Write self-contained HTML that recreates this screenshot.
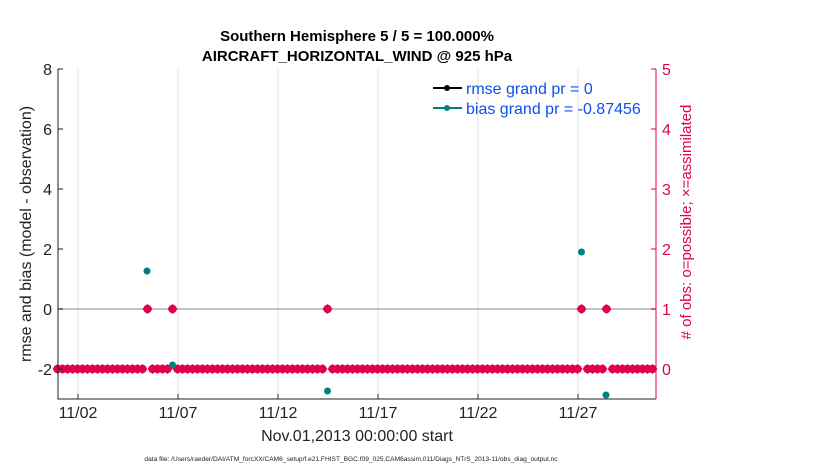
<!DOCTYPE html>
<html><head><meta charset="utf-8"><style>
html,body{margin:0;padding:0;background:#fff;}
svg{display:block;font-family:"Liberation Sans",Arial,sans-serif;}
</style></head><body>
<svg id="s" width="830" height="470" viewBox="0 0 830 470" xmlns="http://www.w3.org/2000/svg">
<defs>
<g id="m"><circle r="4.2" fill="#e0004d"/><path d="M-5 0L0 -5L5 0L0 5Z" fill="#e0004d"/></g>
</defs>
<rect x="58" y="69" width="598" height="330" fill="#fff"/>
<g stroke="#dcdcdc" stroke-width="1">
<line x1="78" y1="69" x2="78" y2="399"/><line x1="178" y1="69" x2="178" y2="399"/>
<line x1="278" y1="69" x2="278" y2="399"/><line x1="378" y1="69" x2="378" y2="399"/>
<line x1="478" y1="69" x2="478" y2="399"/><line x1="578" y1="69" x2="578" y2="399"/>
</g>
<line x1="58" y1="309" x2="656" y2="309" stroke="#c4c4c4" stroke-width="2"/>
<g id="pts"></g>
<g fill="#008080">
<circle cx="147" cy="271" r="3.5"/><circle cx="172.5" cy="365" r="3.5"/><circle cx="327.5" cy="391" r="3.5"/>
<circle cx="581.5" cy="252" r="3.5"/><circle cx="606" cy="395" r="3.5"/>
</g>
<path d="M58 69V399H656" fill="none" stroke="#222" stroke-width="1"/>
<line x1="656" y1="69" x2="656" y2="399" stroke="#e0004d" stroke-width="1"/>
<g stroke="#222"><line x1="58" y1="69" x2="63" y2="69"/><line x1="58" y1="129" x2="63" y2="129"/><line x1="58" y1="189" x2="63" y2="189"/><line x1="58" y1="249" x2="63" y2="249"/><line x1="58" y1="309" x2="63" y2="309"/><line x1="58" y1="369" x2="63" y2="369"/>
<line x1="78" y1="399" x2="78" y2="394"/><line x1="178" y1="399" x2="178" y2="394"/><line x1="278" y1="399" x2="278" y2="394"/><line x1="378" y1="399" x2="378" y2="394"/><line x1="478" y1="399" x2="478" y2="394"/><line x1="578" y1="399" x2="578" y2="394"/></g>
<g stroke="#e0004d"><line x1="651" y1="69" x2="656" y2="69"/><line x1="651" y1="129" x2="656" y2="129"/><line x1="651" y1="189" x2="656" y2="189"/><line x1="651" y1="249" x2="656" y2="249"/><line x1="651" y1="309" x2="656" y2="309"/><line x1="651" y1="369" x2="656" y2="369"/></g>
<g font-size="16" fill="#222" text-anchor="end">
<text x="52" y="75">8</text><text x="52" y="135">6</text><text x="52" y="195">4</text><text x="52" y="255">2</text><text x="52" y="315">0</text><text x="52" y="375">-2</text>
</g>
<g font-size="16" fill="#e0004d">
<text x="662" y="75">5</text><text x="662" y="135">4</text><text x="662" y="195">3</text><text x="662" y="255">2</text><text x="662" y="315">1</text><text x="662" y="375">0</text>
</g>
<g font-size="16" fill="#222" text-anchor="middle">
<text x="78" y="418">11/02</text><text x="178" y="418">11/07</text><text x="278" y="418">11/12</text><text x="378" y="418">11/17</text><text x="478" y="418">11/22</text><text x="578" y="418">11/27</text>
<text x="357" y="441">Nov.01,2013 00:00:00 start</text>
</g>
<text transform="translate(31,234) rotate(-90)" font-size="16" fill="#222" text-anchor="middle">rmse and bias (model - observation)</text>
<text transform="translate(691,222) rotate(-90)" font-size="15" fill="#e0004d" text-anchor="middle"># of obs: o=possible; ×=assimilated</text>
<g font-size="15" font-weight="bold" fill="#000" text-anchor="middle">
<text x="357" y="41">Southern Hemisphere 5 / 5 = 100.000%</text>
<text x="357" y="61">AIRCRAFT_HORIZONTAL_WIND @ 925 hPa</text>
</g>
<text x="351" y="461" font-size="6.6" fill="#222" text-anchor="middle">data file: /Users/raeder/DAI/ATM_forcXX/CAM6_setup/f.e21.FHIST_BGC.f09_025.CAM6assim.011/Diags_NTrS_2013-11/obs_diag_output.nc</text>
<line x1="433" y1="88" x2="462" y2="88" stroke="#000" stroke-width="2"/><circle cx="447" cy="88" r="3" fill="#000"/>
<line x1="433" y1="108" x2="462" y2="108" stroke="#008080" stroke-width="2"/><circle cx="447" cy="108" r="3" fill="#008080"/>
<g font-size="16" fill="#0a4ff0"><text x="466" y="94">rmse grand pr = 0</text><text x="466" y="114">bias grand pr = -0.87456</text></g>
</svg>
<script>
var g=document.getElementById('pts'),h='';
var ones=[147.5,172.5,327.5,581.5,606.5];
for(var k=0;k<120;k++){var x=57.5+5*k;if(x>656)x=656;
var o=ones.find(function(o){return Math.abs(o-x)<2.6;});
h+='<use href="#m" x="'+(o!==undefined?o:x)+'" y="'+(o!==undefined?309:369)+'"/>';}
g.innerHTML=h;
</script>
</body></html>
